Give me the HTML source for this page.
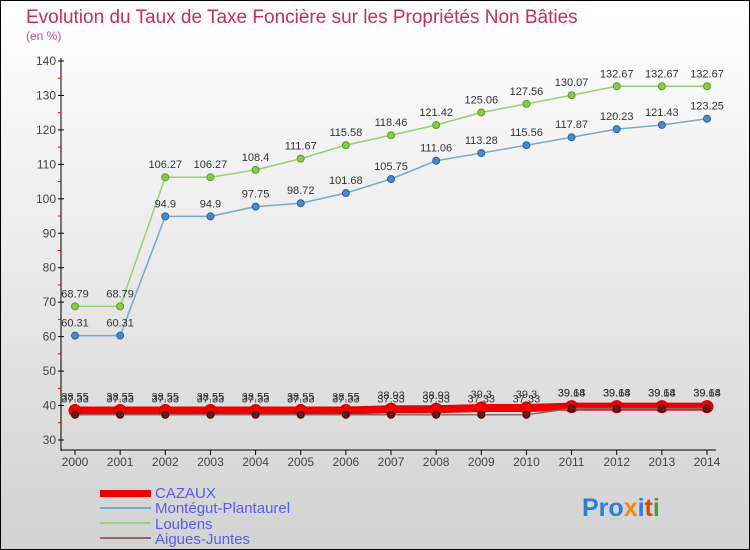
<!DOCTYPE html>
<html><head><meta charset="utf-8"><style>
html,body{margin:0;padding:0}
body{width:750px;height:550px;overflow:hidden;font-family:"Liberation Sans",sans-serif}
</style></head><body>
<svg id="c" width="750" height="550" xmlns="http://www.w3.org/2000/svg" style="display:block">
<defs><linearGradient id="bg" x1="0" y1="0" x2="0" y2="1"><stop offset="0" stop-color="#ffffff"/><stop offset="1" stop-color="#d2d2d2"/></linearGradient></defs>
<rect x="0.5" y="0.5" width="749" height="549" fill="url(#bg)" stroke="#000"/>
<text x="26" y="23" font-size="19" fill="#c0305f">Evolution du Taux de Taxe Foncière sur les Propriétés Non Bâties</text>
<text x="26" y="40" font-size="12" fill="#c0508a">(en %)</text>
<g id="axes"></g><g id="series"></g>
<g>
<rect x="100" y="490" width="51" height="7" fill="#ee0000"/>
<text x="155" y="498" font-size="15" fill="#5a5af0">CAZAUX</text>
<rect x="100" y="507" width="51" height="2" fill="#78a8cc"/>
<text x="155" y="513" font-size="15" fill="#5a5af0">Montégut-Plantaurel</text>
<rect x="100" y="522" width="51" height="2" fill="#98d070"/>
<text x="155" y="529" font-size="15" fill="#5a5af0">Loubens</text>
<rect x="100" y="537" width="51" height="2" fill="#906868"/>
<text x="155" y="544" font-size="15" fill="#5a5af0">Aigues-Juntes</text>
</g>
<text x="582" y="516" font-size="25" font-weight="bold"><tspan fill="#2a7fd4">Pro</tspan><tspan fill="#f08a10">x</tspan><tspan fill="#2a7fd4">i</tspan><tspan fill="#e04010">t</tspan><tspan fill="#3aa040">i</tspan></text>
</svg>
<script>
const years=[2000,2001,2002,2003,2004,2005,2006,2007,2008,2009,2010,2011,2012,2013,2014];
const cazaux=[38.55,38.55,38.55,38.55,38.55,38.55,38.55,38.93,38.93,39.3,39.3,39.68,39.68,39.68,39.68];
const montegut=[60.31,60.31,94.9,94.9,97.75,98.72,101.68,105.75,111.06,113.28,115.56,117.87,120.23,121.43,123.25];
const loubens=[68.79,68.79,106.27,106.27,108.4,111.67,115.58,118.46,121.42,125.06,127.56,130.07,132.67,132.67,132.67];
const aigues=[37.33,37.33,37.33,37.33,37.33,37.33,37.33,37.33,37.33,37.33,37.33,39.14,39.14,39.14,39.14];
const yTicks=[30,40,50,60,70,80,90,100,110,120,130,140];
const NS="http://www.w3.org/2000/svg";
const x=i=>75+i*(707-75)/(years.length-1);
const y=v=>440-(v-30)*(440-61)/110;
function mk(t,a,p){const e=document.createElementNS(NS,t);for(const k in a)e.setAttribute(k,a[k]);p.appendChild(e);return e;}
const ax=document.getElementById('axes'),sg=document.getElementById('series');
let e=mk('line',{x1:61,y1:58,x2:61,y2:451,stroke:'#000'},ax);


e=mk('line',{x1:61,y1:450,x2:716,y2:450,stroke:'#000'},ax);


yTicks.forEach(v=>{
 mk('line',{x1:58,y1:y(v),x2:64,y2:y(v),stroke:'#000'},ax);
 if(v<140)mk('line',{x1:58,y1:y(v+5),x2:61,y2:y(v+5),stroke:'#e00'},ax);
 const t=mk('text',{x:56,y:y(v)+4,'font-size':12,fill:'#444','text-anchor':'end'},ax);t.textContent=v;
 
 
});
years.forEach((yr,i)=>{
 mk('line',{x1:x(i),y1:450,x2:x(i),y2:455,stroke:'#000'},ax);
 const t=mk('text',{x:x(i),y:466,'font-size':12,fill:'#444','text-anchor':'middle'},ax);t.textContent=yr;
 
 
});
function series(name,vals,col,w,dot,dotStroke,r,lblDy){
 const g=mk('g',{},sg);
 
 
 mk('polyline',{points:vals.map((v,i)=>x(i)+','+y(v)).join(' '),fill:'none',stroke:col,'stroke-width':w,'stroke-linejoin':'round'},g);
 vals.forEach((v,i)=>{
  const c=mk('circle',{cx:x(i),cy:y(v),r:r,fill:dot,stroke:dotStroke,'stroke-width':1},g);
  
  
  const t=mk('text',{x:x(i),y:y(v)+lblDy,'font-size':11,fill:'#333','text-anchor':'middle'},g);t.textContent=v;
  
  
 });
}
series('loubens',loubens,'#98d070',1.5,'#88cc44','#5a9a30',3.5,-9);
series('montegut',montegut,'#78a8cc',1.5,'#4a8ac8','#2a60a0',3.5,-9);
series('cazaux',cazaux,'#ee0000',8,'#ee0000','#cc0000',6,-10);
series('aigues-juntes',aigues,'#906868',1.5,'#6a1a1a','#400000',3.5,-12);
</script>
</body></html>
